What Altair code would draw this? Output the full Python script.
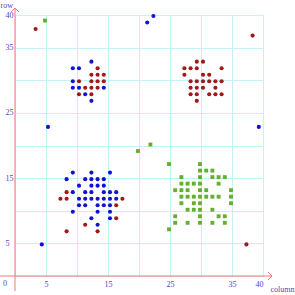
import altair as alt
import pandas as pd

# row -> list of columns, per series
blue_rows = {40: [22], 39: [21], 33: [12], 32: [9, 10], 30: [9], 29: [9, 10, 14],
             28: [11], 27: [12], 23: [5, 39], 16: [9, 12, 15], 15: [8, 11, 12, 13, 14],
             14: [10, 12, 13, 14], 13: [9, 11, 12, 14, 15, 16],
             12: [10, 11, 12, 13, 14, 15, 16], 11: [10, 11, 13, 14, 15],
             10: [9, 13, 15], 9: [12, 15], 8: [13], 5: [4]}
red_rows = {38: [3], 37: [38], 33: [29, 30], 32: [13, 27, 28, 29, 33],
            31: [12, 13, 14, 27, 30, 31], 30: [10, 12, 13, 14, 28, 29, 30, 31, 32, 33],
            29: [11, 12, 13, 28, 29, 30, 32], 28: [10, 12, 28, 29, 31, 32, 33],
            27: [29], 13: [8], 12: [7, 8, 17], 11: [16], 9: [16], 8: [11],
            7: [8, 13], 5: [37]}
green_rows = {39: [5], 20: [22], 19: [20], 17: [25, 30], 16: [30, 31, 32],
              15: [27, 30, 32, 33, 34], 14: [27, 28, 29, 30, 33],
              13: [26, 27, 28, 30, 31, 35], 12: [27, 28, 29, 30, 31, 32, 33, 35],
              11: [27, 29, 30, 35], 10: [28, 29, 30, 32], 9: [26, 30, 33, 34],
              8: [26, 28, 30, 32, 34], 7: [25]}

grid_values = [0, 5, 10, 15, 20, 25, 30, 35, 40]
label_values = [5, 15, 25, 35, 40]


def expand(rows, group):
    return [{"column": c, "row": r, "group": group} for r, cols in rows.items() for c in cols]


circles = pd.DataFrame(expand(blue_rows, "blue") + expand(red_rows, "red"))
squares = pd.DataFrame(expand(green_rows, "green"))

AXIS_RED = "#ee7a7a"
LABEL_BLUE = "#4848cc"
FONT = "Liberation Serif"
label_expr = "indexof([" + ",".join(str(v) for v in label_values) + "], datum.value) >= 0 ? datum.label : ''"

W, H = 248, 261
xs = alt.Scale(domain=[0, 40], nice=False, zero=False)
ys = alt.Scale(domain=[0, 40], nice=False, zero=False)

x_axis = alt.Axis(values=grid_values, labelExpr=label_expr, grid=True, gridColor="#c4f2f6",
                  gridWidth=1, domain=False, ticks=False, labelColor=LABEL_BLUE, labelFont=FONT,
                  labelFontSize=8, labelPadding=4, labelAngle=0, labelOverlap=False,
                  title="column", titleX=255,
                  titleY=13, titleAlign="left", titleBaseline="middle", titleFont=FONT,
                  titleFontSize=8, titleFontWeight="normal", titleColor=LABEL_BLUE)
y_axis = alt.Axis(values=grid_values, labelExpr=label_expr, grid=True, gridColor="#c4f2f6",
                  gridWidth=1, domain=False, ticks=False, labelColor=LABEL_BLUE, labelFont=FONT,
                  labelFontSize=8, labelPadding=10, labelAlign="left", labelOverlap=False,
                  title="row", titleAngle=0,
                  titleX=-15, titleY=-10, titleAlign="left", titleBaseline="middle", titleFont=FONT,
                  titleFontSize=8, titleFontWeight="normal", titleColor=LABEL_BLUE)

color_scale = alt.Scale(domain=["blue", "red", "green"], range=["#1212d6", "#a51616", "#62b02e"])

pts = alt.Chart(circles).mark_point(filled=True, shape="circle", size=17, opacity=1,
                                    xOffset=2, yOffset=1).encode(
    x=alt.X("column:Q", scale=xs, axis=x_axis),
    y=alt.Y("row:Q", scale=ys, axis=y_axis),
    color=alt.Color("group:N", scale=color_scale, legend=None),
)
sq = alt.Chart(squares).mark_point(filled=True, shape="square", size=15, opacity=1,
                                   xOffset=-1, yOffset=-1).encode(
    x=alt.X("column:Q", scale=xs, axis=x_axis),
    y=alt.Y("row:Q", scale=ys, axis=y_axis),
    color=alt.Color("group:N", scale=color_scale, legend=None),
)

# decorative axis lines with arrow heads (pixel positions relative to the plot area)
base = alt.Chart(pd.DataFrame({"a": [0]}))
x_line = base.mark_rule(color=AXIS_RED, strokeWidth=1).encode(
    x=alt.value(-15), x2=alt.value(257), y=alt.value(H))
y_line = base.mark_rule(color=AXIS_RED, strokeWidth=1).encode(
    x=alt.value(0), y=alt.value(-7), y2=alt.value(H + 15))
x_arrow = base.mark_point(shape="M-1,-1L0,0L-1,1", filled=False, size=64, strokeWidth=1,
                          color=AXIS_RED, opacity=1).encode(x=alt.value(257), y=alt.value(H))
y_arrow = base.mark_point(shape="M-1,1L0,0L1,1", filled=False, size=64, strokeWidth=1,
                          color=AXIS_RED, opacity=1).encode(x=alt.value(0), y=alt.value(-7))
zero = base.mark_text(text="0", font=FONT, fontSize=8, color=LABEL_BLUE,
                      baseline="middle").encode(x=alt.value(-10), y=alt.value(H + 8))

chart = alt.layer(sq, pts, x_line, y_line, x_arrow, y_arrow, zero).properties(
    width=W, height=H,
    autosize=alt.AutoSizeParams(type="none"),
    padding={"left": 15, "top": 15, "right": 32, "bottom": 19},
    background="white",
).configure_view(strokeWidth=0)

chart.save("out.html", embed_options={"renderer": "svg", "actions": False})
